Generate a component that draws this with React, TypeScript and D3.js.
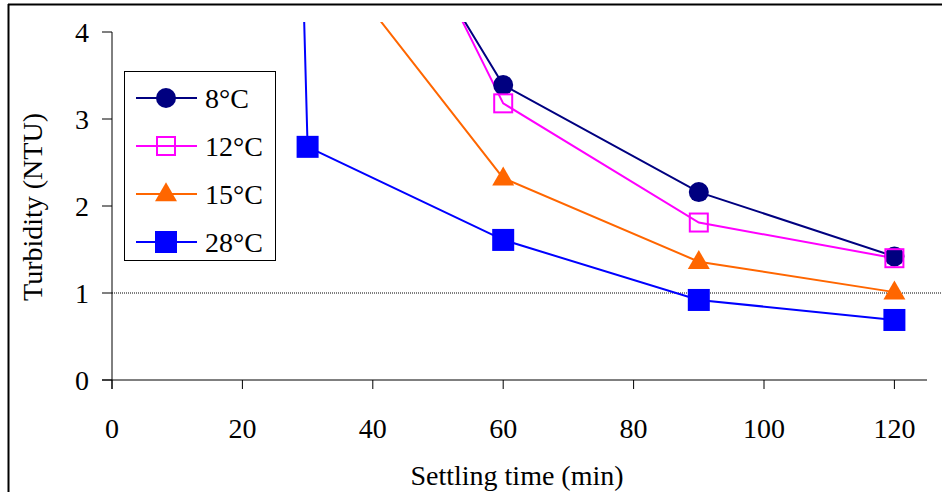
import React from 'react';
import * as d3 from 'd3';

// settling time (min)
const times = [30, 60, 90, 120];

// turbidity (NTU) per temperature; the 28°C run also has a very high initial reading at 0 min
const t8 = [7.1, 3.39, 2.16, 1.42];
const t12 = [7.7, 3.18, 1.81, 1.40];
const t15 = [5.2, 2.32, 1.36, 1.01];
const t28 = [85, 2.68, 1.61, 0.92, 0.69];
const t28Times = [0, 30, 60, 90, 120];

const xTicks = [0, 20, 40, 60, 80, 100, 120];
const yTicks = [0, 1, 2, 3, 4];
const limit = 1;

type Series = {
  name: string;
  color: string;
  marker: 'circle' | 'hollowSquare' | 'triangle' | 'square';
  xs: number[];
  ys: number[];
};

const series: Series[] = [
  { name: '8°C', color: '#000080', marker: 'circle', xs: times, ys: t8 },
  { name: '12°C', color: '#FF00FF', marker: 'hollowSquare', xs: times, ys: t12 },
  { name: '15°C', color: '#FF6600', marker: 'triangle', xs: times, ys: t15 },
  { name: '28°C', color: '#0000FF', marker: 'square', xs: t28Times, ys: t28 },
];

const FONT = 'Liberation Serif';

function Marker({ type, color, x, y }: { type: Series['marker']; color: string; x: number; y: number }) {
  if (type === 'circle') return <circle cx={x} cy={y} r={10} fill={color} />;
  if (type === 'hollowSquare')
    return <rect x={x - 9} y={y - 9} width={18} height={18} fill="none" stroke={color} strokeWidth={2} />;
  if (type === 'square') return <rect x={x - 11} y={y - 11} width={22} height={22} fill={color} />;
  const tri = d3.symbol().type(d3.symbolTriangle).size(209)();
  return <path d={tri || ''} transform={`translate(${x},${y + 1})`} fill={color} />;
}

export default function App() {
  const W = 942;
  const H = 492;
  const x = d3.scaleLinear().domain([0, 125]).range([112, 927]);
  const y = d3.scaleLinear().domain([0, 4]).range([380, 32]);
  const clipTop = 22;

  const line = d3
    .line<[number, number]>()
    .x((d) => x(d[0]))
    .y((d) => y(d[1]));

  const legendY = [98, 146, 194, 242];

  return (
    <svg width={W} height={H} style={{ position: 'absolute', left: 0, top: 0, background: '#fff' }}>
      <clipPath id="plotclip">
        <rect x={x(0)} y={clipTop} width={W - x(0)} height={y(0) + 20 - clipTop} />
      </clipPath>
      {/* outer frame (top and left edges) */}
      <line x1={8.5} x2={8.5} y1={4} y2={H} stroke="#000" strokeWidth={2} />
      <line x1={8} x2={W} y1={4.5} y2={4.5} stroke="#000" strokeWidth={2} />

      {/* axes */}
      <line x1={x(0)} x2={x(0)} y1={y(4)} y2={y(0) + 9} stroke="#000" strokeWidth={1} />
      <line x1={x(0) - 10} x2={x(125)} y1={y(0)} y2={y(0)} stroke="#000" strokeWidth={1} />
      {yTicks.map((t) => (
        <g key={'y' + t}>
          <line x1={x(0) - 10} x2={x(0)} y1={y(t)} y2={y(t)} stroke="#000" />
          <text x={89} y={y(t) + 10} fontFamily={FONT} fontSize={28} textAnchor="end">
            {String(t)}
          </text>
        </g>
      ))}
      {xTicks.map((t) => (
        <g key={'x' + t}>
          <line x1={x(t)} x2={x(t)} y1={y(0)} y2={y(0) + 9} stroke="#000" />
          <text x={x(t)} y={438} fontFamily={FONT} fontSize={28} textAnchor="middle">
            {String(t)}
          </text>
        </g>
      ))}
      <text x={517} y={485} fontFamily={FONT} fontSize={28} textAnchor="middle">
        Settling time (min)
      </text>
      <text transform="translate(42,207) rotate(-90)" fontFamily={FONT} fontSize={28} textAnchor="middle">
        Turbidity (NTU)
      </text>

      {/* 1 NTU reference */}
      <line
        x1={x(0)}
        x2={W}
        y1={y(limit)}
        y2={y(limit)}
        stroke="#000"
        strokeWidth={1}
        strokeDasharray="1,1"
      />

      <g clipPath="url(#plotclip)">
        {series.map((s) => (
          <path
            key={s.name}
            d={line(s.xs.map((v, i) => [v, s.ys[i]] as [number, number])) || ''}
            fill="none"
            stroke={s.color}
            strokeWidth={2}
          />
        ))}
        {series.map((s) =>
          s.xs.map((v, i) =>
            s.ys[i] <= 4 ? <Marker key={s.name + i} type={s.marker} color={s.color} x={x(v)} y={y(s.ys[i])} /> : null
          )
        )}
      </g>

      {/* legend */}
      <rect x={124.5} y={71.5} width={151} height={189} fill="#fff" stroke="#000" strokeWidth={1} />
      {series.map((s, i) => (
        <g key={'lg' + s.name}>
          <line x1={136} x2={197} y1={legendY[i]} y2={legendY[i]} stroke={s.color} strokeWidth={2} />
          <Marker type={s.marker} color={s.color} x={166} y={legendY[i]} />
          <text x={205} y={legendY[i] + 10} fontFamily={FONT} fontSize={28}>
            {s.name}
          </text>
        </g>
      ))}
    </svg>
  );
}
